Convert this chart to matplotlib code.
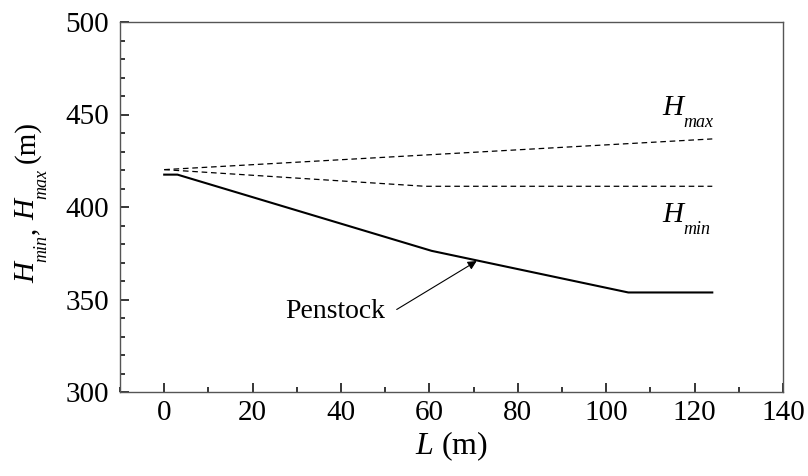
import matplotlib
matplotlib.use("Agg")
import numpy as np
import matplotlib.pyplot as plt
from matplotlib.ticker import MultipleLocator
from matplotlib.transforms import IdentityTransform

plt.rcParams['font.family'] = ['Liberation Serif', 'DejaVu Serif']
plt.rcParams['mathtext.fontset'] = 'custom'
plt.rcParams['mathtext.rm'] = 'Liberation Serif'
plt.rcParams['mathtext.it'] = 'Liberation Serif:italic'

# Data
penstock_L = [0, 3, 60.5, 105, 124]
penstock_H = [417.5, 417.5, 376.3, 353.8, 353.8]
hmax_L = [0, 124]
hmax_H = [420.2, 436.8]
hmin_L = [0, 59, 124]
hmin_H = [420.2, 411.2, 411.2]

W, H = 808, 476
fig = plt.figure(figsize=(W / 100, H / 100), dpi=100)
ax = fig.add_axes([120 / W, 1 - 392 / H, (783 - 120) / W, (392 - 22) / H])

ax.plot(penstock_L, penstock_H, color='black', lw=1.5)
ax.plot(hmax_L, hmax_H, color='black', lw=0.9, ls=(0, (4.5, 3)))
ax.plot(hmin_L, hmin_H, color='black', lw=0.9, ls=(0, (4.5, 3)))

ax.set_xlim(-10, 140)
ax.set_ylim(300, 500)
ax.xaxis.set_major_locator(MultipleLocator(20))
ax.xaxis.set_minor_locator(MultipleLocator(10))
ax.yaxis.set_major_locator(MultipleLocator(50))
ax.yaxis.set_minor_locator(MultipleLocator(10))
ax.tick_params(which='both', direction='in', labelsize=21, top=False, right=False,
               color='black')
ax.tick_params(which='major', length=6.5, width=1.1)
ax.tick_params(which='minor', length=3.6, width=1.1)
ax.tick_params(axis='y', which='major', pad=8)
ax.tick_params(axis='x', which='major', pad=6)
for s in ['top', 'right', 'left', 'bottom']:
    ax.spines[s].set_linewidth(1.0)
    ax.spines[s].set_color('#555555')

ax.set_xlabel(r'$L$ (m)', fontsize=23, labelpad=2)

renderer = fig.canvas.get_renderer()


def rich(pieces, x0, y0, rot=0, align='left'):
    """pieces: (text, size, italic, drop_px, gap_px); x0,y0 in image px (y down)."""
    th = np.deg2rad(rot)
    d = np.array([np.cos(th), np.sin(th)])
    n = np.array([np.sin(th), -np.cos(th)])
    texts, offs = [], []
    cum = 0.0
    for s, size, italic, drop, gap in pieces:
        t = fig.text(0, 0, s, fontsize=size, style='italic' if italic else 'normal',
                     transform=IdentityTransform(), ha='left', va='baseline')
        w = t.get_window_extent(renderer).width
        cum += gap
        texts.append((t, drop))
        offs.append(cum)
        cum += w
    start = -cum / 2 if align == 'center' else 0.0
    base = np.array([x0, H - y0], dtype=float)
    for (t, drop), o in zip(texts, offs):
        p = base + (start + o) * d + drop * n
        t.set_position((p[0], p[1]))
        t.set_rotation(rot)
        t.set_rotation_mode('anchor')


BIG, SUB = 21, 13
DROP = 12
rich([('H', BIG, True, 0, 0), ('max', SUB, True, DROP, 0)], 662, 115)
rich([('H', BIG, True, 0, 0), ('min', SUB, True, DROP, 0)], 662, 222)
rich([('H', BIG, True, 0, 0), ('min', SUB, True, DROP, 0), (',', BIG, False, 0, 1),
      ('H', BIG, True, 0, 6), ('max', SUB, True, DROP, 0), ('(m)', BIG, False, 0, 6)],
     34, 202, rot=90, align='center')

ax.text(38.7, 339.8, 'Penstock', fontsize=20, ha='center', va='baseline')
ax.annotate('', xy=(70.7, 370.8), xytext=(52.6, 344.6),
            arrowprops=dict(arrowstyle='-|>', color='black', lw=0.8,
                            mutation_scale=13, shrinkA=0, shrinkB=0))

fig.savefig('out.png', dpi=100)
